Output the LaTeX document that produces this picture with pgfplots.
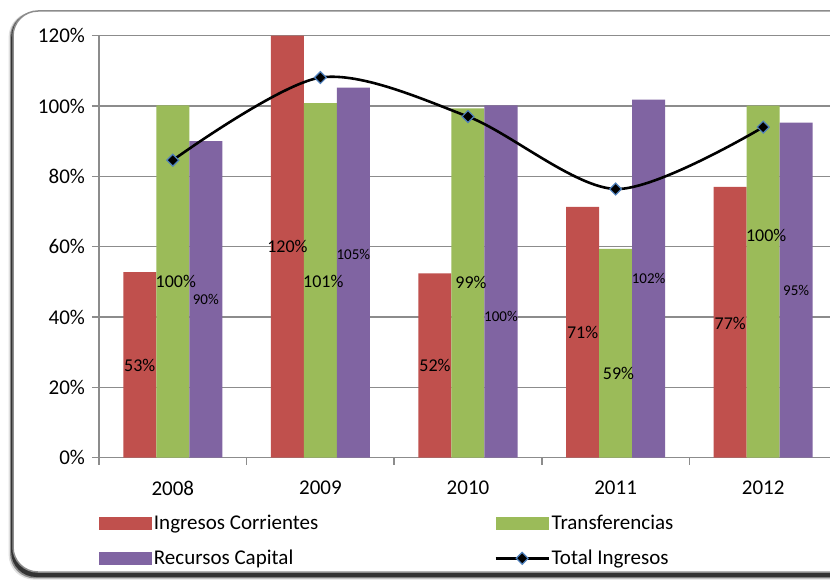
\documentclass[border=0pt]{standalone}
\usepackage{pgfplots}
\usepackage{pgfplotstable}
\usepackage{fontspec}
\setmainfont{Carlito}
\pgfplotsset{compat=1.18}
\definecolor{cred}{HTML}{C0504D}
\definecolor{cgreen}{HTML}{9BBB59}
\definecolor{cpurple}{HTML}{8064A2}
\definecolor{cblue}{HTML}{4F81BD}
\definecolor{gridgray}{HTML}{8C8C8C}
\definecolor{framegray}{HTML}{8C8C8C}
% values and label positions (label y in %, as placed in the chart)
\pgfplotstableread{
x ic tr rc tot icy try rcy
0 52.8 100.2 90.0 84.6 26.3 50.1 45.0
1 120.0 100.8 105.2 108.1 60.0 50.1 57.7
2 52.4 99.3 100.2 97.0 26.3 49.8 40.2
3 71.3 59.4 101.8 76.4 35.7 24.1 50.9
4 77.0 100.1 95.3 94.0 38.2 63.1 47.6
}\data
\begin{document}
\begin{tikzpicture}
\useasboundingbox (0,0) rectangle (415pt,290pt);
\begin{scope}
\clip (0,0) rectangle (415pt,290pt);
\fill[black!12, rounded corners=12.5pt] (4.3pt,0.2pt) rectangle (440pt,284pt);
\fill[black!45, rounded corners=12.5pt] (5pt,0.8pt) rectangle (440pt,284pt);
\fill[black!80, rounded corners=12.5pt] (5.6pt,1.5pt) rectangle (440pt,284pt);
\draw[fill=white, draw=framegray, line width=0.75pt, rounded corners=12.5pt] (6.5pt,4pt) rectangle (440pt,284.5pt);
\end{scope}
\begin{axis}[
  at={(49.5pt,61.15pt)}, anchor=south west,
  scale only axis, width=369pt, height=211pt,
  xmin=-0.5, xmax=4.5, ymin=0, ymax=120,
  axis lines*=left,
  axis line style={gridgray, line width=0.75pt, -},
  ytick={0,20,...,120},
  yticklabel={\pgfmathprintnumber{\tick}\%},
  /pgf/number format/assume math mode=true,
  ymajorgrids, grid style={gridgray, line width=0.75pt},
  xtick={-0.5,0.5,...,4.5}, xticklabels={},
  extra x ticks={0,1,2,3,4},
  extra x tick labels={2008,2009,2010,2011,2012},
  extra x tick style={major tick length=0pt, grid=none},
  tick align=outside, major tick length=3.5pt,
  tick style={gridgray, line width=0.75pt},
  ticklabel style={font=\fontsize{10.5}{12}\selectfont},
  xticklabel style={yshift=-8pt},
  clip=false,
  legend style={at={(-0.0082,-0.116)}, anchor=north west, draw=none, fill=none,
    font=\fontsize{10.5}{12}\selectfont,
    /tikz/every even column/.append style={column sep=86pt},
    /tikz/every odd column/.append style={column sep=-1.2pt},
    row sep=4.5pt},
  legend columns=2, legend cell align=left,
]
\addplot[ybar, bar width=16.5pt, bar shift=-16.5pt, fill=cred, draw=none,
  legend image code/.code={\fill[cred] (0pt,-3.25pt) rectangle (26.5pt,3.25pt);}]
  table[x=x,y=ic]{\data};
\addlegendentry{Ingresos Corrientes}
\addplot[ybar, bar width=16.5pt, bar shift=0pt, fill=cgreen, draw=none,
  legend image code/.code={\fill[cgreen] (0pt,-3.25pt) rectangle (26.5pt,3.25pt);}]
  table[x=x,y=tr]{\data};
\addlegendentry{Transferencias}
\addplot[ybar, bar width=16.5pt, bar shift=16.5pt, fill=cpurple, draw=none,
  legend image code/.code={\fill[cpurple] (0pt,-3.25pt) rectangle (26.5pt,3.25pt);}]
  table[x=x,y=rc]{\data};
\addlegendentry{Recursos Capital}
\addplot[black, line width=1.3pt, smooth, mark=square*,
  mark options={rotate=45, fill=black, draw=cblue, line width=0.6pt, solid}, mark size=2.1pt,
  legend image code/.code={\draw[black, line width=1.3pt] (0pt,0pt) -- (26.5pt,0pt);
    \draw[rotate around={45:(13.25pt,0pt)}, fill=black, draw=cblue, line width=0.6pt] (11.15pt,-2.1pt) rectangle (15.35pt,2.1pt);}]
  table[x=x,y=tot]{\data};
\addlegendentry{Total Ingresos}
% labels
\addplot[only marks, mark=none, forget plot,
  point meta=\thisrow{ic},
  nodes near coords={\pgfmathprintnumber[fixed,precision=0]{\pgfplotspointmeta}\%},
  nodes near coords style={anchor=center, font=\fontsize{9}{10}\selectfont, inner sep=0pt}]
  table[x expr=\thisrow{x}-0.2236, y=icy]{\data};
\addplot[only marks, mark=none, forget plot,
  point meta=\thisrow{tr},
  nodes near coords={\pgfmathprintnumber[fixed,precision=0]{\pgfplotspointmeta}\%},
  nodes near coords style={anchor=center, font=\fontsize{9}{10}\selectfont, inner sep=0pt}]
  table[x expr=\thisrow{x}+0.02, y=try]{\data};
\addplot[only marks, mark=none, forget plot,
  point meta=\thisrow{rc},
  nodes near coords={\pgfmathprintnumber[fixed,precision=0]{\pgfplotspointmeta}\%},
  nodes near coords style={anchor=center, font=\fontsize{7.5}{9}\selectfont, inner sep=0pt}]
  table[x expr=\thisrow{x}+0.2236, y=rcy]{\data};
\end{axis}
\end{tikzpicture}
\end{document}
